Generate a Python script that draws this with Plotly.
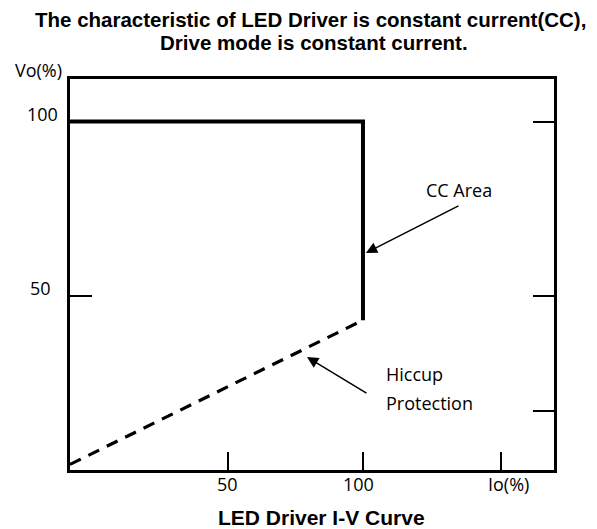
import plotly.graph_objects as go

# ---- data ----
cc_io = [0, 100, 100]          # Io(%) of the CC curve
cc_vo = [100, 100, 43]         # Vo(%) of the CC curve
hic_io = [0, 100]              # hiccup protection line
hic_vo = [1.6, 43]
x_tickvals = [54, 100, 147]
x_ticktext = ["50", "100", "Io(%)"]
x_label_pos = [53.6, 98.6, 149.5]
y_tickvals = [50, 100]
y_ticktext = ["50", "100"]
y_right_ticks = [17, 50, 100]

title_lines = ["The characteristic of LED Driver is constant current(CC),",
               "Drive mode is constant current."]
bottom_title = "LED Driver I-V Curve"

X_MAX = 165.2
Y_MAX = 112.2

fig = go.Figure()
fig.add_trace(go.Scatter(x=hic_io, y=hic_vo, mode="lines",
                         line=dict(color="black", width=3.2, dash="12px,8.5px"),
                         showlegend=False, hoverinfo="skip"))
fig.add_trace(go.Scatter(x=cc_io, y=cc_vo, mode="lines",
                         line=dict(color="black", width=4),
                         showlegend=False, hoverinfo="skip"))
# invisible trace for right axis
fig.add_trace(go.Scatter(x=[0], y=[0], yaxis="y2", mode="markers",
                         marker=dict(opacity=0), showlegend=False, hoverinfo="skip"))

sans = "Open Sans, Noto Sans, sans-serif"
bold = "Liberation Sans, Arial, sans-serif"
tfont = dict(family=sans, size=18, color="black")

fig.update_layout(
    width=589, height=521,
    margin=dict(l=62, r=43, t=71, b=59),
    paper_bgcolor="white", plot_bgcolor="white",
    xaxis=dict(range=[0, X_MAX], showgrid=False, zeroline=False,
               showline=True, linecolor="black", linewidth=2.5, mirror=True,
               ticks="inside", ticklen=18, tickwidth=2, tickcolor="black",
               tickvals=x_tickvals, showticklabels=False),
    yaxis=dict(range=[0, Y_MAX], showgrid=False, zeroline=False,
               showline=True, linecolor="black", linewidth=2.5, mirror=True,
               ticks="inside", ticklen=22, tickwidth=2, tickcolor="black",
               tickvals=y_tickvals, showticklabels=False),
    yaxis2=dict(range=[0, Y_MAX], overlaying="y", side="right", showgrid=False,
                zeroline=False, showline=False,
                ticks="inside", ticklen=21, tickwidth=2, tickcolor="black",
                tickvals=y_right_ticks, showticklabels=False),
)

# titles (pixel positions in paper fractions of the 484x391 plot area)
def px_x(px):  # absolute page px -> paper x
    return (px - 70) / 484.0

def px_y(py):  # absolute page px -> paper y
    return (470 - py) / 391.0

fig.add_annotation(text="<b>" + title_lines[0] + "</b>", xref="paper", yref="paper",
                   x=px_x(310), y=px_y(20), xanchor="center", yanchor="middle",
                   showarrow=False, font=dict(family=bold, size=20.5, color="black"))
fig.add_annotation(text="<b>" + title_lines[1] + "</b>", xref="paper", yref="paper",
                   x=px_x(313.5), y=px_y(42.5), xanchor="center", yanchor="middle",
                   showarrow=False, font=dict(family=bold, size=20.5, color="black"))
fig.add_annotation(text="<b>" + bottom_title + "</b>", xref="paper", yref="paper",
                   x=px_x(321.5), y=px_y(518), xanchor="center", yanchor="middle",
                   showarrow=False, font=dict(family=bold, size=21, color="black"))
fig.add_annotation(text="Vo(%)", xref="paper", yref="paper", x=px_x(13), y=px_y(70),
                   xanchor="left", yanchor="middle", showarrow=False, font=tfont)

# y tick labels
y_label_right_px = [53, 60]
for v, t, rpx in zip(y_tickvals, y_ticktext, y_label_right_px):
    fig.add_annotation(text=t, xref="paper", yref="y", x=px_x(rpx), y=v + 2.1,
                       xanchor="right", yanchor="middle", showarrow=False, font=tfont)
# x tick labels
for xv, t in zip(x_label_pos, x_ticktext):
    fig.add_annotation(text=t, xref="x", yref="paper", x=xv, y=px_y(484),
                       xanchor="center", yanchor="middle", showarrow=False, font=tfont)

# CC area
fig.add_annotation(text="CC Area", x=132.9, y=80.3, xref="x", yref="y",
                   showarrow=False, font=tfont)
fig.add_annotation(text="", x=101.0, y=62.3, ax=133.1, ay=76.0, xref="x", yref="y",
                   axref="x", ayref="y", showarrow=True, arrowhead=2, arrowsize=1.5,
                   arrowwidth=1.5, arrowcolor="black")
# Hiccup protection
fig.add_annotation(text="Hiccup", x=107.2, y=27.6, xref="x", yref="y",
                   xanchor="left", showarrow=False, font=tfont)
fig.add_annotation(text="Protection", x=107.2, y=19.3, xref="x", yref="y",
                   xanchor="left", showarrow=False, font=tfont)
fig.add_annotation(text="", x=80.9, y=32.4, ax=101.7, ay=21.8, xref="x", yref="y",
                   axref="x", ayref="y", showarrow=True, arrowhead=2, arrowsize=1.5,
                   arrowwidth=1.5, arrowcolor="black")

fig.write_html("out.html")
